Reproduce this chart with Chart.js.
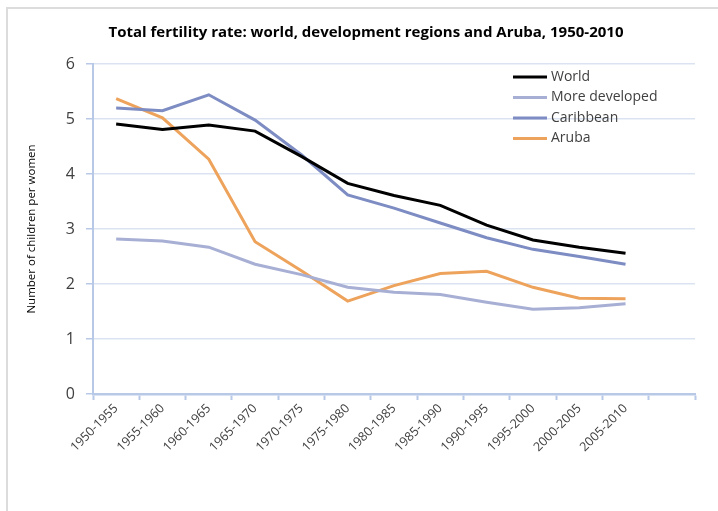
<!DOCTYPE html>
<html>
<head>
<meta charset="utf-8">
<script src="https://cdn.jsdelivr.net/npm/chart.js@4.4.1/dist/chart.umd.min.js"></script>
<style>
  html, body { margin: 0; padding: 0; background: #fff; }
  #wrap { position: relative; width: 718px; height: 511px; overflow: hidden; }
  #frame { position: absolute; left: 6px; top: 7px; width: 720px; height: 520px;
           border-left: 2px solid #dcdcdc; border-top: 2px solid #dcdcdc; }
  canvas { position: absolute; left: 0; top: 0; }
</style>
</head>
<body>
<div id="wrap">
  <div id="frame"></div>
  <canvas id="chart" width="718" height="511"></canvas>
</div>
<script>
const periods = ['1950-1955', '1955-1960', '1960-1965', '1965-1970', '1970-1975', '1975-1980',
  '1980-1985', '1985-1990', '1990-1995', '1995-2000', '2000-2005', '2005-2010', ''];

const world = [4.91, 4.81, 4.89, 4.78, 4.32, 3.83, 3.61, 3.43, 3.07, 2.80, 2.67, 2.56, null];
const moreDeveloped = [2.82, 2.78, 2.67, 2.36, 2.17, 1.94, 1.85, 1.81, 1.67, 1.54, 1.57, 1.64, null];
const caribbean = [5.20, 5.15, 5.44, 4.98, 4.35, 3.62, 3.38, 3.11, 2.84, 2.63, 2.50, 2.36, null];
const aruba = [5.37, 5.02, 4.27, 2.77, 2.24, 1.69, 1.97, 2.19, 2.23, 1.94, 1.74, 1.73, null];

const yTicks = [0, 1, 2, 3, 4, 5, 6];

const seriesColors = {
  'World': '#000000',
  'More developed': '#a8afd4',
  'Caribbean': '#7d8cc2',
  'Aruba': '#eea35c',
};

const axisColor = '#b8c9e8';
const gridColor = '#dbe3f2';
const textColor = '#404040';

// title + legend drawn inside the chart like the original Excel layout
const overlayPlugin = {
  id: 'overlay',
  afterDraw(chart) {
    const { ctx } = chart;
    ctx.save();
    ctx.fillStyle = '#000';
    ctx.font = 'bold 15px "Open Sans"';
    ctx.textAlign = 'center';
    ctx.textBaseline = 'middle';
    ctx.fillText('Total fertility rate: world, development regions and Aruba, 1950-2010', 366, 33);

    ctx.font = '14px "Open Sans"';
    ctx.textAlign = 'left';
    chart.data.datasets.forEach((ds, i) => {
      const y = 77 + i * 20.5;
      ctx.strokeStyle = ds.borderColor;
      ctx.lineWidth = 3;
      ctx.beginPath();
      ctx.moveTo(513, y);
      ctx.lineTo(547, y);
      ctx.stroke();
      ctx.fillStyle = textColor;
      ctx.fillText(ds.label, 551, y);
    });
    ctx.restore();
  },
};

function makeDataset(label, values) {
  return {
    label,
    data: values,
    borderColor: seriesColors[label],
    backgroundColor: seriesColors[label],
    borderWidth: 3,
    pointRadius: 0,
    tension: 0,
    spanGaps: false,
  };
}

new Chart(document.getElementById('chart'), {
  type: 'line',
  data: {
    labels: periods,
    datasets: [
      makeDataset('World', world),
      makeDataset('More developed', moreDeveloped),
      makeDataset('Caribbean', caribbean),
      makeDataset('Aruba', aruba),
    ],
  },
  options: {
    responsive: false,
    animation: false,
    layout: { padding: { top: 64, right: 23, left: 0, bottom: 0 } },
    plugins: {
      legend: { display: false },
      title: { display: false },
      tooltip: { enabled: false },
    },
    scales: {
      x: {
        offset: true,
        grid: {
          offset: true,
          drawOnChartArea: false,
          drawTicks: true,
          tickLength: 6,
          tickColor: axisColor,
          tickWidth: 2,
        },
        border: { color: axisColor, width: 2.5 },
        ticks: {
          minRotation: 45,
          maxRotation: 45,
          autoSkip: false,
          padding: 1,
          color: textColor,
          font: { family: '"Open Sans"', size: 12.5 },
        },
        afterFit: (scale) => { scale.height = 117; },
      },
      y: {
        min: 0,
        max: 6,
        afterBuildTicks: (scale) => { scale.ticks = yTicks.map((v) => ({ value: v })); },
        grid: {
          color: gridColor,
          lineWidth: 1.5,
          tickLength: 7,
          tickColor: axisColor,
        },
        border: { color: axisColor, width: 2 },
        ticks: {
          padding: 11,
          color: textColor,
          font: { family: '"Open Sans"', size: 16 },
        },
        title: {
          display: true,
          text: 'Number of children per women',
          color: '#000',
          font: { family: '"Open Sans"', size: 11.5 },
          padding: { top: 25, bottom: 0 },
        },
        afterFit: (scale) => { scale.width = 93; },
      },
    },
  },
  plugins: [overlayPlugin],
});
</script>
</body>
</html>
